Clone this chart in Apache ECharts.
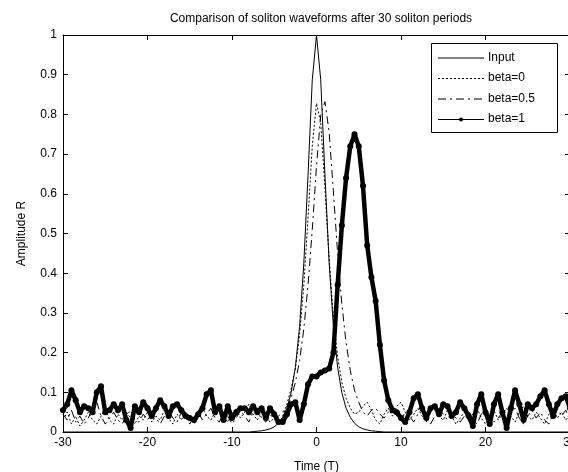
<!DOCTYPE html>
<html>
<head>
<meta charset="utf-8">
<script src="https://cdn.jsdelivr.net/npm/echarts@6/dist/echarts.min.js"></script>
<style>html,body{margin:0;padding:0;background:#fff;}#c{width:568px;height:472px;}</style>
</head>
<body>
<div id="c"></div>
<script>
const titleText = 'Comparison of soliton waveforms after 30 soliton periods';
const seriesNames = ['Input', 'beta=0', 'beta=0.5', 'beta=1'];
const xTicks = [-30, -20, -10, 0, 10, 20, 30];

const time = [
-30,-29.5,-29,-28.5,-28,-27.5,-27,-26.5,-26,-25.5,
-25,-24.5,-24,-23.5,-23,-22.5,-22,-21.5,-21,-20.5,
-20,-19.5,-19,-18.5,-18,-17.5,-17,-16.5,-16,-15.5,
-15,-14.5,-14,-13.5,-13,-12.5,-12,-11.5,-11,-10.5,
-10,-9.5,-9,-8.5,-8,-7.5,-7,-6.5,-6,-5.5,
-5,-4.5,-4,-3.5,-3,-2.5,-2,-1.5,-1,-0.5,
0,0.5,1,1.5,2,2.5,3,3.5,4,4.5,
5,5.5,6,6.5,7,7.5,8,8.5,9,9.5,
10,10.5,11,11.5,12,12.5,13,13.5,14,14.5,
15,15.5,16,16.5,17,17.5,18,18.5,19,19.5,
20,20.5,21,21.5,22,22.5,23,23.5,24,24.5,
25,25.5,26,26.5,27,27.5,28,28.5,29,29.5,
30];

const inputVals = [
0,0,0,0,0,0,0,0,0,0,
0,0,0,0,0,0,0,0,0,0,
0,0,0,0,0,0,0,0,0,0,
0,0,0,0,0,0,0,0,0,0,
0,0,0,0,0,0.001,0.002,0.003,0.005,0.008,
0.013,0.022,0.037,0.06,0.099,0.163,0.266,0.425,0.648,0.887,
1,0.887,0.648,0.425,0.266,0.163,0.099,0.06,0.037,0.022,
0.013,0.008,0.005,0.003,0.002,0.001,0,0,0,0,
0,0,0,0,0,0,0,0,0,0,
0,0,0,0,0,0,0,0,0,0,
0,0,0,0,0,0,0,0,0,0,
0,0,0,0,0,0,0,0,0,0,
0];

const beta0Vals = [
0.03,0.05,0.02,0.04,0.015,0.03,0.05,0.03,0.02,0.04,
0.06,0.03,0.02,0.045,0.03,0.05,0.035,0.02,0.04,0.03,
0.05,0.025,0.04,0.03,0.055,0.035,0.02,0.045,0.03,0.05,
0.04,0.02,0.035,0.06,0.04,0.03,0.05,0.065,0.04,0.025,
0.045,0.06,0.035,0.05,0.07,0.045,0.03,0.05,0.04,0.025,
0.035,0.02,0.04,0.07,0.11,0.16,0.245,0.37,0.54,0.72,
0.828,0.78,0.615,0.435,0.29,0.19,0.125,0.085,0.06,0.045,
0.05,0.065,0.075,0.055,0.03,0.02,0.045,0.06,0.04,0.065,
0.075,0.05,0.03,0.045,0.06,0.04,0.025,0.05,0.065,0.04,
0.03,0.055,0.04,0.02,0.035,0.05,0.03,0.045,0.06,0.035,
0.02,0.04,0.055,0.03,0.045,0.06,0.04,0.025,0.05,0.065,
0.04,0.03,0.05,0.035,0.02,0.045,0.06,0.035,0.05,0.03,
0.045];

const beta05Vals = [
0.045,0.03,0.055,0.025,0.04,0.02,0.035,0.06,0.075,0.04,
0.02,0.035,0.05,0.03,0.02,0.04,0.055,0.03,0.025,0.045,
0.03,0.05,0.035,0.02,0.04,0.055,0.035,0.025,0.05,0.035,
0.02,0.04,0.05,0.03,0.045,0.06,0.035,0.025,0.05,0.04,
0.02,0.035,0.055,0.04,0.025,0.05,0.06,0.035,0.025,0.045,
0.03,0.04,0.05,0.065,0.085,0.125,0.18,0.26,0.37,0.51,
0.67,0.798,0.832,0.755,0.605,0.45,0.322,0.225,0.155,0.105,
0.075,0.05,0.04,0.055,0.06,0.045,0.035,0.05,0.065,0.04,
0.03,0.05,0.04,0.025,0.045,0.055,0.035,0.02,0.04,0.06,
0.045,0.03,0.05,0.035,0.025,0.04,0.055,0.03,0.02,0.045,
0.06,0.04,0.025,0.035,0.05,0.03,0.045,0.06,0.035,0.02,
0.04,0.055,0.035,0.05,0.03,0.02,0.045,0.06,0.04,0.055,
0.03];

const beta1Vals = [
0.055,0.07,0.105,0.08,0.05,0.065,0.06,0.05,0.10,0.115,
0.05,0.055,0.07,0.055,0.07,0.03,0.01,0.065,0.05,0.075,
0.06,0.04,0.06,0.08,0.065,0.04,0.065,0.07,0.055,0.04,
0.035,0.03,0.045,0.06,0.095,0.105,0.05,0.065,0.03,0.065,
0.035,0.05,0.06,0.06,0.05,0.065,0.05,0.06,0.035,0.06,
0.045,0.025,0.025,0.045,0.07,0.075,0.03,0.07,0.12,0.14,
0.14,0.15,0.155,0.16,0.2,0.37,0.52,0.64,0.72,0.75,
0.72,0.62,0.47,0.39,0.33,0.22,0.13,0.08,0.055,0.05,
0.035,0.025,0.05,0.085,0.095,0.06,0.035,0.06,0.065,0.045,
0.07,0.065,0.04,0.05,0.075,0.06,0.04,0.015,0.07,0.095,
0.05,0.02,0.07,0.095,0.05,0.01,0.06,0.105,0.07,0.03,
0.07,0.06,0.07,0.09,0.105,0.07,0.04,0.07,0.085,0.09,
0.06];

const pairs = vals => time.map((t, i) => [t, vals[i]]);
const FONT = "'Liberation Sans', Arial, sans-serif";

// Line styles (shared by series and the legend keys)
const dashes = [null, [2, 2], [8, 4, 2, 4], null];

// Legend drawn as a boxed key (layout only)
const LG = {x: 431.5, y: 43.5, w: 126, h: 89, rowY: [57.5, 78, 98.5, 119], x1: 438, x2: 484, tx: 488};
const legendEls = [{
  type: 'rect', shape: {x: LG.x, y: LG.y, width: LG.w, height: LG.h},
  style: {fill: '#fff', stroke: '#000', lineWidth: 1}, z: 100
}];
seriesNames.forEach((n, i) => {
  legendEls.push({
    type: 'line', shape: {x1: LG.x1, y1: LG.rowY[i] + 0.5, x2: LG.x2, y2: LG.rowY[i] + 0.5},
    style: {stroke: '#000', lineWidth: 1, lineDash: dashes[i] || null}, z: 101
  });
  legendEls.push({
    type: 'text', x: LG.tx, y: LG.rowY[i],
    style: {text: n, fill: '#000', font: '12px ' + FONT, textVerticalAlign: 'middle', textAlign: 'left'}, z: 101
  });
});
legendEls.push({
  type: 'circle', shape: {cx: (LG.x1 + LG.x2) / 2, cy: LG.rowY[3] + 0.5, r: 2},
  style: {fill: '#000'}, z: 102
});

const chart = echarts.init(document.getElementById('c'), null, {renderer: 'canvas'});
const axisCommon = {
  axisLine: {show: true, onZero: false, lineStyle: {color: '#000', width: 1}},
  axisTick: {show: true, inside: true, length: 5, lineStyle: {color: '#000'}},
  splitLine: {show: false}
};
chart.setOption({
  animation: false,
  backgroundColor: '#fff',
  title: {
    text: titleText, left: 316, top: 8, textAlign: 'center',
    textStyle: {fontFamily: FONT, fontSize: 12, fontWeight: 'normal', color: '#000'}
  },
  grid: {left: 63, right: -2, top: 35, bottom: 40, containLabel: false, outerBoundsMode: 'none'},
  graphic: {elements: legendEls},
  xAxis: [
    Object.assign({
      type: 'value', min: -30, max: 30, interval: 10, position: 'bottom',
      name: 'Time (T)', nameLocation: 'middle', nameGap: 29,
      nameTextStyle: {fontFamily: FONT, fontSize: 12, color: '#000'},
      axisLabel: {show: true, fontFamily: FONT, fontSize: 12, color: '#000', margin: 5,
        formatter: v => xTicks.indexOf(v) >= 0 ? String(v) : ''}
    }, axisCommon),
    Object.assign({
      type: 'value', min: -30, max: 30, interval: 10, position: 'top',
      axisLabel: {show: false}
    }, axisCommon)
  ],
  yAxis: [
    Object.assign({
      type: 'value', min: 0, max: 1, interval: 0.1, position: 'left',
      name: 'Amplitude R', nameLocation: 'middle', nameGap: 35,
      nameTextStyle: {fontFamily: FONT, fontSize: 12, color: '#000'},
      axisLabel: {show: true, fontFamily: FONT, fontSize: 12, color: '#000', margin: 6,
        formatter: v => String(Math.round(v * 10) / 10)}
    }, axisCommon),
    Object.assign({
      type: 'value', min: 0, max: 1, interval: 0.1, position: 'right',
      axisLabel: {show: false}
    }, axisCommon)
  ],
  series: [
    {name: seriesNames[0], type: 'line', data: pairs(inputVals), showSymbol: false, symbol: 'none',
     lineStyle: {color: '#000', width: 1, type: 'solid'}, itemStyle: {color: '#000'}, z: 2},
    {name: seriesNames[1], type: 'line', data: pairs(beta0Vals), showSymbol: false, symbol: 'none',
     lineStyle: {color: '#000', width: 1, type: dashes[1]}, itemStyle: {color: '#000'}, z: 2},
    {name: seriesNames[2], type: 'line', data: pairs(beta05Vals), showSymbol: false, symbol: 'none',
     lineStyle: {color: '#000', width: 1, type: dashes[2]}, itemStyle: {color: '#000'}, z: 2},
    {name: seriesNames[3], type: 'line', data: pairs(beta1Vals), symbol: 'circle', symbolSize: 6,
     showAllSymbol: true, lineStyle: {color: '#000', width: 4.5}, itemStyle: {color: '#000'}, z: 3}
  ]
});
</script>
</body>
</html>
